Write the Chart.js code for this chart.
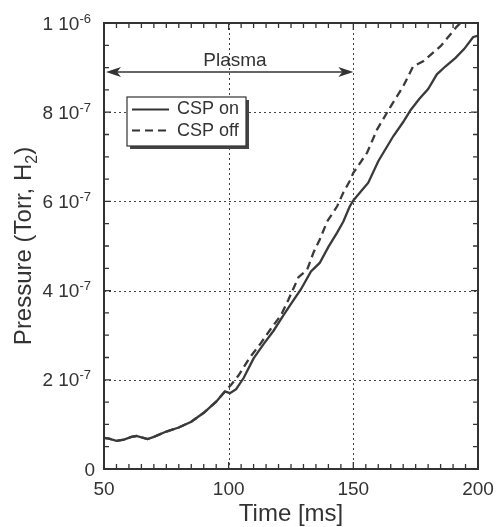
<!DOCTYPE html>
<html>
<head>
<meta charset="utf-8">
<script src="https://cdn.jsdelivr.net/npm/chart.js@4"></script>
<style>
  html, body { margin: 0; padding: 0; background: #fff; }
  canvas { display: block; }
</style>
</head>
<body>
<canvas id="chart" width="503" height="527"></canvas>
<script>
// pressure values in units of 1e-7 Torr
const timeOn = [50, 52, 55, 58, 61, 63, 65, 67.5, 70, 75, 80, 85, 90, 95, 98.5, 100.5, 103, 106, 110, 114,
    118, 122, 125, 129, 133, 136.5, 140, 143.5, 146, 148.5, 150, 153, 156, 160, 166, 170, 173, 176.5, 180, 183.5,
    187, 191, 194.5, 198, 200];
const pressureOn = [0.70, 0.68, 0.63, 0.66, 0.72, 0.74, 0.71, 0.67, 0.72, 0.84, 0.93, 1.06, 1.26, 1.51, 1.74, 1.70, 1.79, 2.04, 2.48, 2.80,
    3.10, 3.45, 3.70, 4.03, 4.43, 4.62, 4.98, 5.30, 5.55, 5.88, 6.02, 6.22, 6.42, 6.90, 7.46, 7.78, 8.05, 8.30, 8.52, 8.85,
    9.03, 9.22, 9.42, 9.68, 9.72];

const timeOff = [50, 52, 55, 58, 61, 63, 65, 67.5, 70, 75, 80, 85, 90, 95, 98.5, 101, 104, 108.5, 112.5, 117,
    121, 124, 128, 131.5, 134, 136.5, 139.5, 143.5, 146, 148.5, 150, 155.5, 159.5, 165, 170, 174, 178, 185, 191.5, 193];
const pressureOff = [0.70, 0.68, 0.63, 0.66, 0.72, 0.74, 0.71, 0.67, 0.72, 0.84, 0.93, 1.06, 1.26, 1.51, 1.74, 1.89, 2.10, 2.50, 2.79, 3.15,
    3.45, 3.80, 4.30, 4.47, 4.85, 5.14, 5.55, 5.89, 6.20, 6.45, 6.64, 7.09, 7.61, 8.13, 8.58, 9.03, 9.14, 9.48, 9.92, 10.0];

const seriesNames = ['CSP on', 'CSP off'];

const xTicks = [50, 100, 150, 200];
const yTicks = [0, 2, 4, 6, 8, 10];
const yTickMantissa = ['0', '2 10', '4 10', '6 10', '8 10', '1 10'];
const yTickExponent = ['', '-7', '-7', '-7', '-7', '-6'];

const plasmaStart = 50;
const plasmaEnd = 150;
const plasmaLevel = 8.9;

const INK = '#333';
const FONT = '"Liberation Sans", Arial, Helvetica, sans-serif';

function toPoints(xs, ys) {
    return xs.map((x, i) => ({ x: x, y: ys[i] }));
}

function arrowHead(ctx, tipX, y, dir) {
    ctx.beginPath();
    ctx.moveTo(tipX, y);
    ctx.lineTo(tipX - dir * 15, y - 5);
    ctx.lineTo(tipX - dir * 11, y);
    ctx.lineTo(tipX - dir * 15, y + 5);
    ctx.closePath();
    ctx.fill();
}

const decorPlugin = {
    id: 'decor',
    beforeDatasetsDraw(chart) {
        const ctx = chart.ctx;
        const area = chart.chartArea;
        const xs = chart.scales.x;
        const ys = chart.scales.y;
        ctx.save();
        ctx.strokeStyle = '#444';
        ctx.lineWidth = 1;
        ctx.setLineDash([2, 3]);
        xTicks.slice(1, -1).forEach(v => {
            const px = Math.round(xs.getPixelForValue(v)) + 0.5;
            ctx.beginPath();
            ctx.moveTo(px, area.top);
            ctx.lineTo(px, area.bottom);
            ctx.stroke();
        });
        yTicks.slice(1, -1).forEach(v => {
            const py = Math.round(ys.getPixelForValue(v)) + 0.5;
            ctx.beginPath();
            ctx.moveTo(area.left, py);
            ctx.lineTo(area.right, py);
            ctx.stroke();
        });
        ctx.restore();
    },
    afterDatasetsDraw(chart) {
        const ctx = chart.ctx;
        const area = chart.chartArea;
        const xs = chart.scales.x;
        const ys = chart.scales.y;
        ctx.save();

        // frame
        ctx.strokeStyle = INK;
        ctx.lineWidth = 2;
        ctx.strokeRect(area.left, area.top, area.right - area.left, area.bottom - area.top);

        // inward ticks on all sides
        ctx.lineWidth = 1.3;
        for (let v = 50; v <= 200; v += 5) {
            const px = xs.getPixelForValue(v);
            const len = v % 50 === 0 ? 7 : 5;
            ctx.beginPath();
            ctx.moveTo(px, area.bottom);
            ctx.lineTo(px, area.bottom - len);
            ctx.moveTo(px, area.top);
            ctx.lineTo(px, area.top + len);
            ctx.stroke();
        }
        for (let v = 0; v <= 10; v += 0.5) {
            const py = ys.getPixelForValue(v);
            const len = v % 2 === 0 ? 7 : 5;
            ctx.beginPath();
            ctx.moveTo(area.left, py);
            ctx.lineTo(area.left + len, py);
            ctx.moveTo(area.right, py);
            ctx.lineTo(area.right - len, py);
            ctx.stroke();
        }

        // x tick labels
        ctx.fillStyle = INK;
        ctx.font = '19px ' + FONT;
        ctx.textAlign = 'center';
        ctx.textBaseline = 'alphabetic';
        xTicks.forEach(v => {
            ctx.fillText(String(v), xs.getPixelForValue(v), 495);
        });

        // y tick labels with exponent
        yTicks.forEach((v, i) => {
            const py = ys.getPixelForValue(v);
            const base = py + 6.5;
            let right = 91;
            if (!yTickExponent[i]) right = 95;
            ctx.font = '13px ' + FONT;
            ctx.textAlign = 'right';
            const expW = yTickExponent[i] ? ctx.measureText(yTickExponent[i]).width : 0;
            if (yTickExponent[i]) ctx.fillText(yTickExponent[i], right, base - 7);
            ctx.font = '19px ' + FONT;
            ctx.fillText(yTickMantissa[i], right - expW, base);
        });

        // axis titles
        ctx.font = '24px ' + FONT;
        ctx.textAlign = 'center';
        ctx.fillText('Time [ms]', (area.left + area.right) / 2, 521);

        ctx.save();
        ctx.translate(31, (area.top + area.bottom) / 2);
        ctx.rotate(-Math.PI / 2);
        const p1 = 'Pressure (Torr, H';
        const p2 = '2';
        const p3 = ')';
        ctx.font = '24px ' + FONT;
        const w1 = ctx.measureText(p1).width;
        const w3 = ctx.measureText(p3).width;
        ctx.font = '16px ' + FONT;
        const w2 = ctx.measureText(p2).width;
        let sx = -(w1 + w2 + w3) / 2;
        ctx.textAlign = 'left';
        ctx.font = '24px ' + FONT;
        ctx.fillText(p1, sx, 0);
        ctx.font = '16px ' + FONT;
        ctx.fillText(p2, sx + w1, 6);
        ctx.font = '24px ' + FONT;
        ctx.fillText(p3, sx + w1 + w2, 0);
        ctx.restore();

        // plasma arrow
        const ay = ys.getPixelForValue(plasmaLevel);
        const ax1 = xs.getPixelForValue(plasmaStart) + 2;
        const ax2 = xs.getPixelForValue(plasmaEnd);
        ctx.strokeStyle = INK;
        ctx.lineWidth = 1.6;
        ctx.beginPath();
        ctx.moveTo(ax1 + 8, ay);
        ctx.lineTo(ax2 - 8, ay);
        ctx.stroke();
        ctx.fillStyle = INK;
        arrowHead(ctx, ax1, ay, -1);
        arrowHead(ctx, ax2, ay, 1);
        ctx.font = '19px ' + FONT;
        ctx.textAlign = 'center';
        ctx.fillText('Plasma', 235, 66);

        // legend box with shadow
        const lx = 127, ly = 97, lw = 119, lh = 49;
        ctx.fillStyle = '#444';
        ctx.fillRect(lx + 3, ly + 3, lw, lh);
        ctx.fillStyle = '#fff';
        ctx.fillRect(lx, ly, lw, lh);
        ctx.strokeStyle = INK;
        ctx.lineWidth = 1.2;
        ctx.strokeRect(lx, ly, lw, lh);

        ctx.lineWidth = 2;
        ctx.beginPath();
        ctx.moveTo(132, 109.5);
        ctx.lineTo(169, 109.5);
        ctx.stroke();
        ctx.setLineDash([8, 5]);
        ctx.beginPath();
        ctx.moveTo(132, 130.5);
        ctx.lineTo(171, 130.5);
        ctx.stroke();
        ctx.setLineDash([]);

        ctx.fillStyle = INK;
        ctx.font = '18px ' + FONT;
        ctx.textAlign = 'left';
        ctx.fillText(seriesNames[0], 177, 114);
        ctx.fillText(seriesNames[1], 177, 136);

        ctx.restore();
    }
};

new Chart(document.getElementById('chart'), {
    type: 'scatter',
    data: {
        datasets: [
            {
                label: seriesNames[0],
                data: toPoints(timeOn, pressureOn),
                showLine: true,
                borderColor: '#3a3a3a',
                borderWidth: 2.3,
                pointRadius: 0,
                tension: 0
            },
            {
                label: seriesNames[1],
                data: toPoints(timeOff, pressureOff),
                showLine: true,
                borderColor: '#3a3a3a',
                borderWidth: 2.3,
                borderDash: [8, 5],
                pointRadius: 0,
                tension: 0
            }
        ]
    },
    options: {
        responsive: false,
        animation: false,
        layout: { padding: { left: 104, top: 23, right: 25, bottom: 58 } },
        plugins: {
            legend: { display: false },
            tooltip: { enabled: false }
        },
        scales: {
            x: { type: 'linear', min: 50, max: 200, display: false },
            y: { type: 'linear', min: 0, max: 10, display: false }
        }
    },
    plugins: [decorPlugin]
});
</script>
</body>
</html>
